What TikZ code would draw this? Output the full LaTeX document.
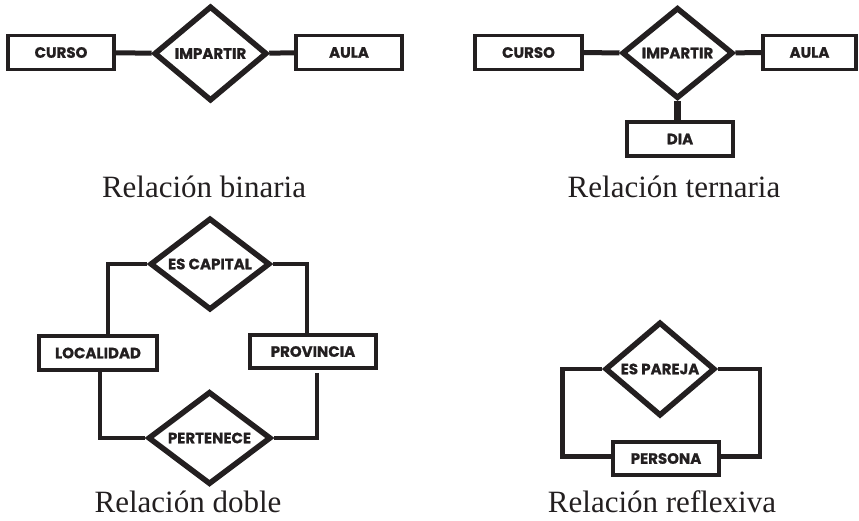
\documentclass[tikz,border=0pt]{standalone}
\usepackage{fontspec}
\usetikzlibrary{shapes.geometric}
\setmainfont{Liberation Serif}
\newfontfamily\labfont{Poppins}[BoldFeatures={FakeBold=0.8}]
\definecolor{ink}{HTML}{231F20}
\tikzset{
  ent/.style={draw=ink, line width=3.5pt, rectangle, inner sep=0pt, minimum height=34pt,
    font=\labfont\bfseries\fontsize{15}{15}\selectfont, text=ink},
  rel/.style={draw=ink, line width=5.5pt, diamond, inner sep=0pt,
    label={[font=\labfont\bfseries\fontsize{15}{15}\selectfont, text=ink]center:#1}},
  con/.style={draw=ink, line width=5pt},
  con2/.style={draw=ink, line width=4.5pt},
  title/.style={font=\fontsize{31}{31}\selectfont, text=ink, anchor=base, inner sep=0pt}
}
\begin{document}
\begin{tikzpicture}[x=1pt,y=-1pt]
\useasboundingbox (0,0) rectangle (859,520);
% Binaria
\node[ent, minimum width=106pt] (c1) at (61,52.5) {CURSO};
\node[rel=IMPARTIR, minimum width=113pt, minimum height=95pt] (i1) at (210.5,53.5) {};
\node[ent, minimum width=106pt] (a1) at (349,52.5) {AULA};
\draw[con] (c1) -- (i1);
\draw[con] (i1) -- (a1);
\node[title] (t1) at (204,197) {Relación binaria};
% Ternaria
\node[ent, minimum width=107pt] (c2) at (528.5,52.5) {CURSO};
\node[rel=IMPARTIR, minimum width=111pt, minimum height=91pt] (i2) at (677.5,53) {};
\node[ent, minimum width=93pt] (a2) at (809.5,52.5) {AULA};
\node[ent, minimum width=106pt] (d2) at (680,139) {DIA};
\draw[con] (c2) -- (i2);
\draw[con] (i2) -- (a2);
\draw[draw=ink, line width=6.5pt] (i2.south) -- (i2.south |- d2.north);
\node[title] (t2) at (674,197) {Relación ternaria};
% Doble
\node[rel={ES CAPITAL}, minimum width=120pt, minimum height=92pt] (esc) at (210,264) {};
\node[ent, minimum width=118pt] (loc) at (98,353) {LOCALIDAD};
\node[ent, minimum width=126pt, minimum height=33pt] (prov) at (313,351.5) {PROVINCIA};
\node[rel=PERTENECE, minimum width=123pt, minimum height=93pt] (per) at (209.5,438) {};
\draw[con2] (esc.west) -| ([xshift=10pt]loc.north);
\draw[con2] (esc.east) -| ([xshift=-6pt]prov.north);
\draw[con2] ([xshift=2pt]loc.south) |- (per.west);
\draw[con2] ([xshift=4pt,yshift=-3pt]prov.south) |- (per.east);
\node[title] (t3) at (188,512) {Relación doble};
% Reflexiva
\node[rel={ES PAREJA}, minimum width=110pt, minimum height=94pt] (par) at (660,369) {};
\node[ent, minimum width=106pt, minimum height=33pt] (pers) at (666,458.5) {PERSONA};
\draw[con2] (par.west) -- ++(-40,0) |- ([yshift=2pt]pers.west);
\draw[con2] (par.east) -- ++(42,0) |- ([yshift=2pt]pers.east);
\node[title] (t4) at (662,512) {Relación reflexiva};
\end{tikzpicture}
\end{document}
